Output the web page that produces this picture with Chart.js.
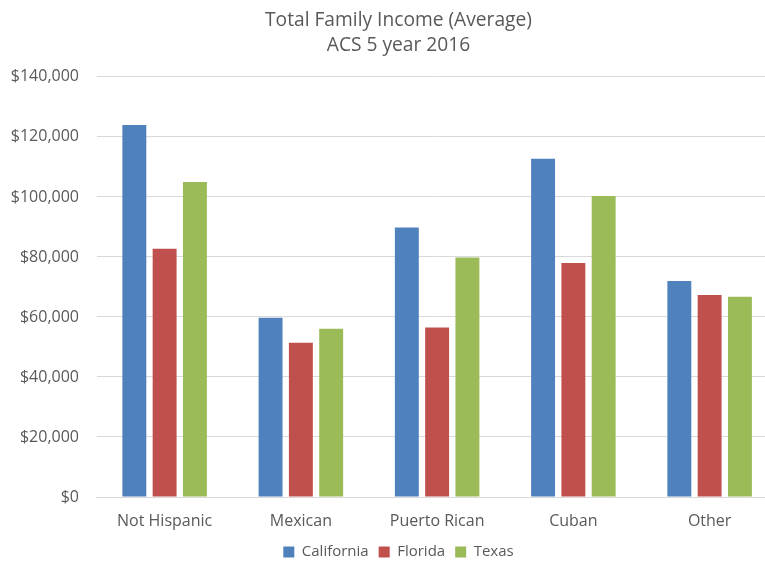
<!DOCTYPE html>
<html>
<head>
<meta charset="utf-8">
<script src="https://cdn.jsdelivr.net/npm/chart.js@4/dist/chart.umd.min.js"></script>
<style>
  html, body { margin: 0; padding: 0; background: #fff; overflow: hidden; }
  #wrap { position: absolute; left: 0; top: 0; width: 797px; height: 561px; }
</style>
</head>
<body>
<div id="wrap"><canvas id="c" width="797" height="561"></canvas></div>
<script>
const categories = ["Not Hispanic", "Mexican", "Puerto Rican", "Cuban", "Other"];
const california = [124000, 59700, 89800, 112700, 72000];
const florida = [82700, 51400, 56500, 78000, 67300];
const texas = [105000, 56100, 79800, 100300, 66700];
const titleLines = ["Total Family Income (Average)", "ACS 5 year 2016"];

const textColor = "#595959";
const fontFamily = "'Open Sans', sans-serif";

new Chart(document.getElementById("c"), {
  type: "bar",
  data: {
    labels: categories,
    datasets: [
      { label: "California", data: california, backgroundColor: "#4F81BD" },
      { label: "Florida", data: florida, backgroundColor: "#C0504D" },
      { label: "Texas", data: texas, backgroundColor: "#9BBB59" }
    ]
  },
  options: {
    responsive: false,
    animation: false,
    devicePixelRatio: 1,
    layout: { padding: { left: 0, right: 0, top: 0, bottom: -8.5 } },
    datasets: { bar: { categoryPercentage: 0.667, barPercentage: 0.79 } },
    plugins: {
      title: {
        display: true,
        text: titleLines,
        color: textColor,
        font: { family: fontFamily, size: 19.2, weight: "normal", lineHeight: 1.3 },
        padding: { top: 8, bottom: 19 }
      },
      legend: {
        position: "bottom",
        labels: {
          color: textColor,
          font: { family: fontFamily, size: 15 },
          boxWidth: 11,
          boxHeight: 11,
          padding: 10
        }
      },
      tooltip: { enabled: false }
    },
    scales: {
      x: {
        grid: { display: false, drawTicks: false },
        border: { display: true, color: "#D9D9D9" },
        ticks: { color: textColor, font: { family: fontFamily, size: 16 }, padding: 15 },
        afterFit: (s) => { s.height = 37.5; }
      },
      y: {
        min: 0,
        max: 140000,
        grid: { color: "#D9D9D9", drawTicks: false },
        border: { display: false },
        ticks: {
          stepSize: 20000,
          color: textColor,
          font: { family: fontFamily, size: 16 },
          padding: 17.5,
          callback: (v) => "$" + Number(v).toLocaleString("en-US")
        },
        afterFit: (s) => { s.width = 96.5; }
      },
      yRight: {
        position: "right",
        display: true,
        min: 0,
        max: 140000,
        grid: { display: false, drawTicks: false },
        border: { display: false },
        ticks: { display: false },
        afterFit: (s) => { s.width = 19.25; }
      }
    }
  }
});
</script>
</body>
</html>
